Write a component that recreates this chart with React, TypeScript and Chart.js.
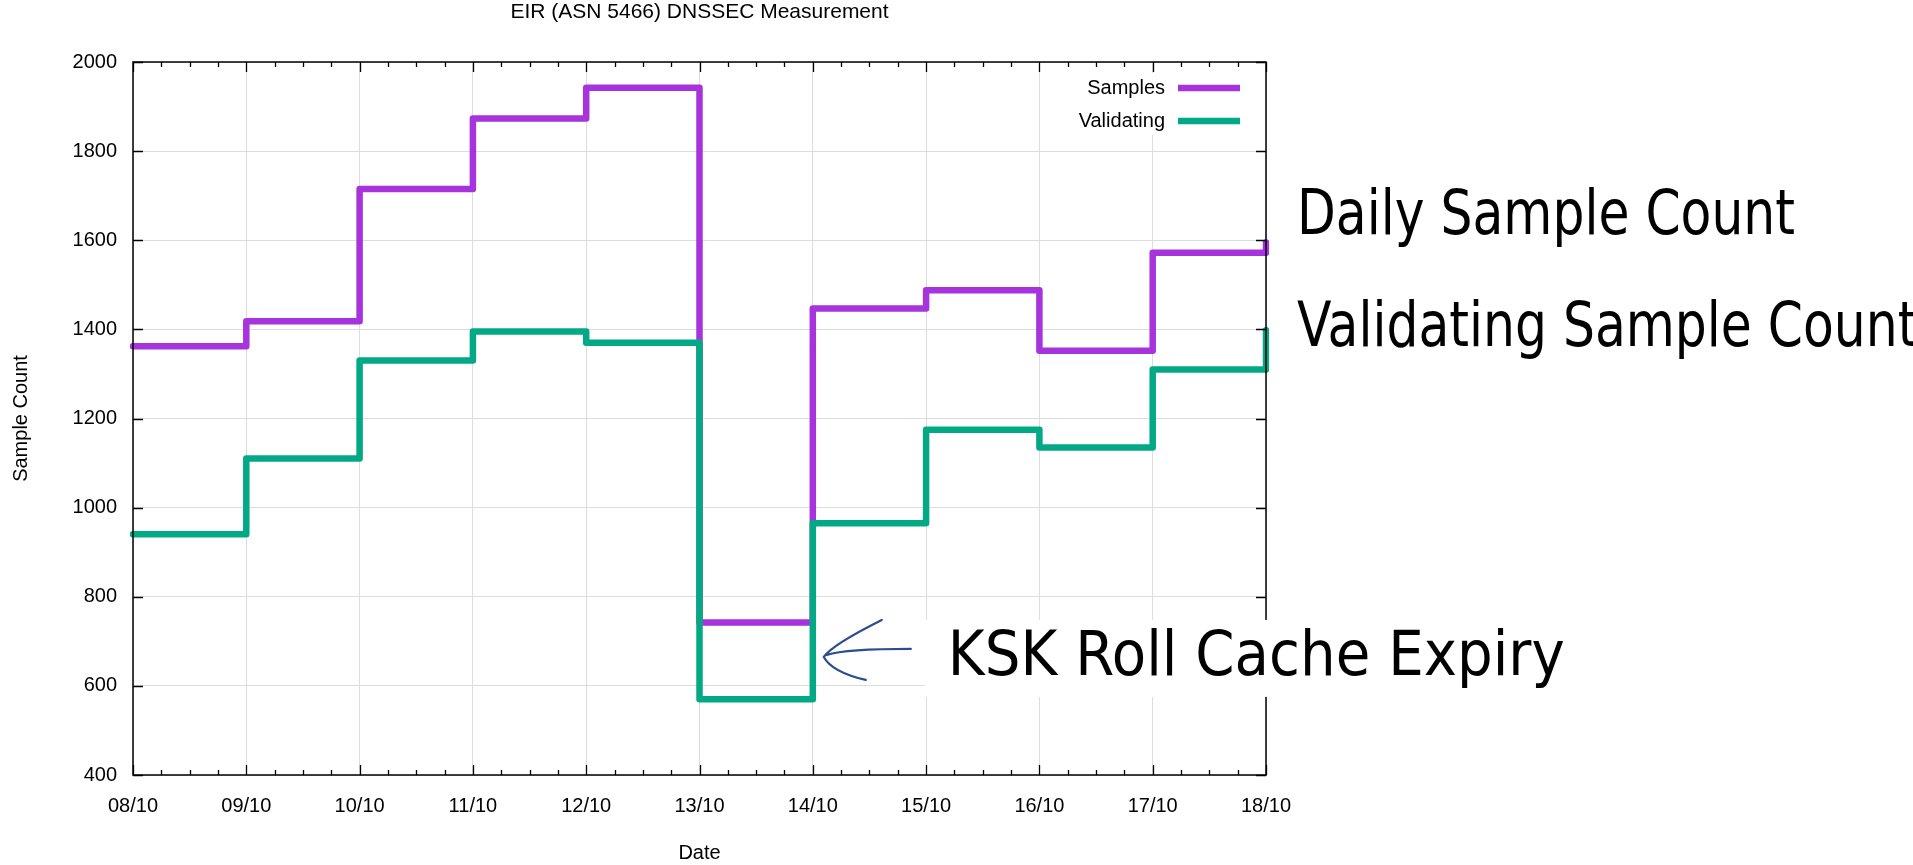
import React, { useEffect, useRef } from 'react';
import { Chart, registerables } from 'chart.js';

Chart.register(...registerables);

// ---- data ----
const dateLabels = ['08/10', '09/10', '10/10', '11/10', '12/10', '13/10', '14/10', '15/10', '16/10', '17/10', '18/10'];
const samplesValues = [1362, 1418, 1715, 1873, 1942, 742, 1447, 1488, 1352, 1572, 1595];
const validatingValues = [940, 1110, 1330, 1395, 1370, 570, 965, 1175, 1135, 1310, 1398];
const yMin = 400;
const yMax = 2000;
const yStep = 200;
const chartTitle = 'EIR (ASN 5466) DNSSEC Measurement';
const xAxisTitle = 'Date';
const yAxisTitle = 'Sample Count';
const noteDaily = 'Daily Sample Count';
const noteValidating = 'Validating Sample Count';
const noteKsk = 'KSK Roll Cache Expiry';
const kskArrowValue = 665;

// ---- layout / style ----
const W = 1913;
const H = 865;
const AREA = { left: 133, top: 62, right: 1266, bottom: 775 };
const FONT = "'Liberation Sans', Arial, Helvetica, sans-serif";
const HAND = "'DejaVu Sans', sans-serif";
const PURPLE = '#a633db';
const GREEN = '#03a985';

function handText(ctx: CanvasRenderingContext2D, text: string, x: number, baseline: number, size: number, sx: number) {
  ctx.save();
  ctx.font = `${size}px ${HAND}`;
  ctx.fillStyle = '#000';
  ctx.textAlign = 'left';
  ctx.textBaseline = 'alphabetic';
  ctx.translate(x, baseline);
  ctx.scale(sx, 1);
  ctx.fillText(text, 0, 0);
  ctx.restore();
}

const decorPlugin = {
  id: 'decor',
  afterDatasetsDraw(chart: any) {
    const { ctx, chartArea: a, scales } = chart;
    const x = scales.x;
    const y = scales.y;
    ctx.save();
    // legend opaque box
    ctx.fillStyle = '#fff';
    ctx.fillRect(a.right - 216, a.top + 11, 213, 62);

    // border
    ctx.strokeStyle = '#000';
    ctx.lineWidth = 1.5;
    ctx.strokeRect(a.left, a.top, a.right - a.left, a.bottom - a.top);

    // inward ticks
    ctx.lineWidth = 1.3;
    ctx.beginPath();
    for (let i = 0; i < dateLabels.length; i++) {
      const px = Math.round(x.getPixelForValue(i)) + 0.5;
      ctx.moveTo(px, a.bottom); ctx.lineTo(px, a.bottom - 10);
      ctx.moveTo(px, a.top); ctx.lineTo(px, a.top + 10);
      if (i < dateLabels.length - 1) {
        for (let k = 1; k < 4; k++) {
          const mx = Math.round(x.getPixelForValue(i + k / 4)) + 0.5;
          ctx.moveTo(mx, a.bottom); ctx.lineTo(mx, a.bottom - 5);
          ctx.moveTo(mx, a.top); ctx.lineTo(mx, a.top + 5);
        }
      }
    }
    for (let v = yMin; v <= yMax; v += yStep) {
      const py = Math.round(y.getPixelForValue(v)) + 0.5;
      ctx.moveTo(a.left, py); ctx.lineTo(a.left + 10, py);
      ctx.moveTo(a.right, py); ctx.lineTo(a.right - 10, py);
    }
    ctx.stroke();

    // legend entries
    ctx.font = `20px ${FONT}`;
    ctx.textAlign = 'right';
    ctx.textBaseline = 'middle';
    const ds = chart.data.datasets;
    ds.forEach((d: any, i: number) => {
      const yy = a.top + 26 + i * 33;
      ctx.fillStyle = '#000';
      ctx.fillText(d.label, a.right - 101, yy);
      ctx.strokeStyle = d.borderColor;
      ctx.lineWidth = 6.5;
      ctx.lineCap = 'butt';
      ctx.beginPath();
      ctx.moveTo(a.right - 88, yy);
      ctx.lineTo(a.right - 26, yy);
      ctx.stroke();
    });
    ctx.restore();
  },
  afterDraw(chart: any) {
    const { ctx, chartArea: a, scales } = chart;
    const x = scales.x;
    const y = scales.y;
    ctx.save();
    // right side notes
    ctx.font = `63px ${HAND}`;
    const wDaily = ctx.measureText(noteDaily).width;
    const sx = 498 / wDaily;
    handText(ctx, noteDaily, a.right + 31, a.top + 172, 63, sx);
    handText(ctx, noteValidating, a.right + 31, a.top + 284, 63, sx);

    // KSK note
    const tipX = x.getPixelForValue(6) + 11;
    const tipY = y.getPixelForValue(kskArrowValue);
    ctx.fillStyle = '#fff';
    ctx.fillRect(tipX + 101, tipY - 37, 660, 77);
    ctx.font = `62px ${HAND}`;
    const wK = ctx.measureText(noteKsk).width;
    handText(ctx, noteKsk, tipX + 124, tipY + 18, 62, 617 / wK);

    // arrow
    ctx.strokeStyle = '#2d4e8e';
    ctx.lineWidth = 2.2;
    ctx.lineCap = 'round';
    ctx.lineJoin = 'round';
    ctx.beginPath();
    ctx.moveTo(tipX + 87, tipY - 8);
    ctx.quadraticCurveTo(tipX + 22, tipY - 8, tipX + 3, tipY - 2);
    ctx.moveTo(tipX + 58, tipY - 37);
    ctx.quadraticCurveTo(tipX + 8, tipY - 12, tipX, tipY);
    ctx.quadraticCurveTo(tipX + 8, tipY + 15, tipX + 42, tipY + 23);
    ctx.stroke();
    ctx.restore();
  },
};

export default function App() {
  const ref = useRef<HTMLCanvasElement | null>(null);
  useEffect(() => {
    if (!ref.current) return;
    const chart = new Chart(ref.current, {
      type: 'line',
      data: {
        labels: dateLabels,
        datasets: [
          {
            label: 'Samples',
            data: samplesValues,
            borderColor: PURPLE,
            backgroundColor: PURPLE,
            borderWidth: 6.5,
            stepped: 'before',
            pointRadius: 0,
            fill: false,
            order: 2,
            borderJoinStyle: 'round',
            borderCapStyle: 'round',
          },
          {
            label: 'Validating',
            data: validatingValues,
            borderColor: GREEN,
            backgroundColor: GREEN,
            borderWidth: 6.5,
            stepped: 'before',
            pointRadius: 0,
            fill: false,
            order: 1,
            borderJoinStyle: 'round',
            borderCapStyle: 'round',
          },
        ],
      },
      options: {
        animation: false,
        responsive: false,
        devicePixelRatio: 1,
        layout: { padding: { left: 0, top: 0, right: W - AREA.right, bottom: 0 } },
        plugins: {
          legend: { display: false },
          tooltip: { enabled: false },
          title: {
            display: true,
            text: chartTitle,
            fullSize: false,
            color: '#000',
            font: { family: FONT, size: 21, weight: 'normal', lineHeight: 1.2 },
            padding: { top: 0, bottom: AREA.top - 25.2 },
          },
        },
        scales: {
          x: {
            type: 'category',
            offset: false,
            afterFit: (s: any) => { s.height = H - AREA.bottom; },
            grid: { color: '#dcdcdc', lineWidth: 1, drawTicks: false },
            border: { display: false },
            ticks: { color: '#000', font: { family: FONT, size: 20 }, padding: 19, maxRotation: 0, autoSkip: false },
            title: { display: true, text: xAxisTitle, color: '#000', font: { family: FONT, size: 20 }, padding: { top: 0, bottom: 0 } },
          },
          y: {
            min: yMin,
            max: yMax,
            afterFit: (s: any) => { s.width = AREA.left; },
            grid: { color: '#dcdcdc', lineWidth: 1, drawTicks: false },
            border: { display: false },
            ticks: {
              stepSize: yStep,
              color: '#000',
              font: { family: FONT, size: 20 },
              padding: 16,
              callback: (v: any) => String(v),
            },
            title: { display: true, text: yAxisTitle, color: '#000', font: { family: FONT, size: 20 }, padding: { top: 9, bottom: 0 } },
          },
        },
      },
      plugins: [decorPlugin],
    });
    return () => chart.destroy();
  }, []);
  return (
    <div style={{ position: 'fixed', left: 0, top: 0, width: W, height: H, background: '#fff' }}>
      <canvas ref={ref} width={W} height={H} style={{ display: 'block', width: W, height: H }} />
    </div>
  );
}
